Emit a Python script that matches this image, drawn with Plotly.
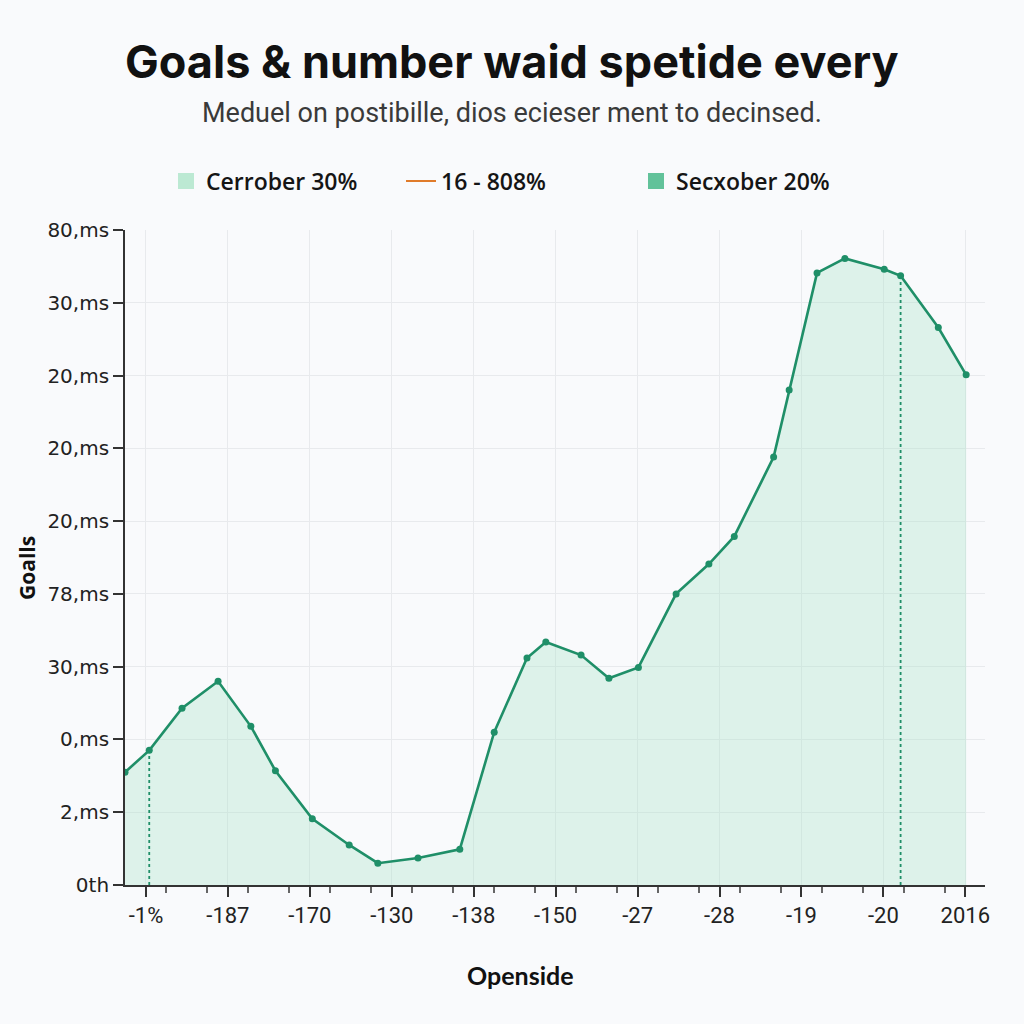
import plotly.graph_objects as go

# --- data ---
x_vals = [-0.256, 0.04, 0.44, 0.88, 1.28, 1.58, 2.03, 2.48, 2.83, 3.32, 3.83,
          4.25, 4.65, 4.88, 5.31, 5.65, 6.01, 6.47, 6.87, 7.18, 7.66, 7.85,
          8.19, 8.53, 9.01, 9.21, 9.67, 10.01]
goals = [1.55, 1.85, 2.43, 2.80, 2.18, 1.57, 0.91, 0.55, 0.30, 0.37, 0.49,
         2.10, 3.12, 3.34, 3.16, 2.84, 2.99, 4.00, 4.41, 4.79, 5.88, 6.80,
         8.41, 8.61, 8.46, 8.37, 7.66, 7.01]
marked_idx = [1, 25]

x_ticktext = ["-1%", "-187", "-170", "-130", "-138", "-150", "-27", "-28",
              "-19", "-20", "2016"]
y_ticktext = ["0th", "2,ms", "0,ms", "30,ms", "78,ms", "20,ms", "20,ms",
              "20,ms", "30,ms", "80,ms"]
legend_names = ["Cerrober 30%", "16 - 808%", "Secxober 20%"]

LINE = "#1f8f68"
FILL = "rgba(170,225,200,0.35)"
BG = "#f9fafc"

# plot area in pixels (1024 x 1024 page)
L, R, T, B = 125, 39, 230, 139
plot_w = 1024 - L - R
plot_h = 1024 - T - B


def px_x(px):
    return (px - L) / plot_w


def px_y(py):
    return 1 + (T - py) / plot_h


fig = go.Figure()

fig.add_trace(go.Scatter(
    x=x_vals, y=goals, mode="lines+markers", fill="tozeroy",
    fillcolor=FILL, line=dict(color=LINE, width=2.6),
    marker=dict(color=LINE, size=7), showlegend=False, hoverinfo="skip"
))

for i in marked_idx:
    fig.add_trace(go.Scatter(
        x=[x_vals[i], x_vals[i]], y=[0, goals[i]], mode="lines",
        line=dict(color=LINE, width=1.8, dash="dot"), showlegend=False,
        hoverinfo="skip"
    ))

# legend-only entries
fig.add_trace(go.Scatter(
    x=[None], y=[None], mode="markers", name=legend_names[0],
    marker=dict(symbol="square", size=26, color="#bce9d3")
))
fig.add_trace(go.Scatter(
    x=[None], y=[None], mode="lines", name=legend_names[1],
    line=dict(color="#e07b2a", width=2)
))
fig.add_trace(go.Scatter(
    x=[None], y=[None], mode="markers", name=legend_names[2],
    marker=dict(symbol="square", size=26, color="#62c29a")
))

minor_x = []
for k in range(10):
    minor_x += [k + 0.25, k + 0.75]

fig.update_layout(
    width=1024, height=1024,
    paper_bgcolor=BG, plot_bgcolor=BG,
    margin=dict(l=L, r=R, t=T, b=B),
    font=dict(family="Open Sans", color="#222"),
    legend=dict(
        orientation="h", x=px_x(166), xanchor="left", y=px_y(181),
        yanchor="middle", font=dict(family="Open Sans", size=23,
                                    color="#151515", weight=600),
        itemsizing="trace", traceorder="normal",
        entrywidth=190, entrywidthmode="pixels",
        bgcolor="rgba(0,0,0,0)"
    ),
    annotations=[
        dict(text="<b>Goals & number waid spetide every</b>", x=px_x(512),
             y=px_y(62), xref="paper", yref="paper", showarrow=False,
             xanchor="center", yanchor="middle",
             font=dict(family="Inter", size=45, color="#111")),
        dict(text="Meduel on postibille, dios ecieser ment to decinsed.",
             x=px_x(512), y=px_y(113), xref="paper", yref="paper",
             showarrow=False, xanchor="center", yanchor="middle",
             font=dict(family="Roboto", size=27, color="#3a3a3a")),
        dict(text="<b>Goalls</b>", x=px_x(27), y=px_y(568), xref="paper",
             yref="paper", showarrow=False, textangle=-90,
             xanchor="center", yanchor="middle",
             font=dict(family="Open Sans", size=21, color="#111")),
        dict(text="<b>Openside</b>", x=px_x(520), y=px_y(975), xref="paper",
             yref="paper", showarrow=False, xanchor="center",
             yanchor="middle",
             font=dict(family="Lato", size=25, color="#111")),
    ],
)

fig.update_xaxes(
    range=[-0.256, 10.24], tickmode="array", tickvals=list(range(11)),
    ticktext=x_ticktext, ticks="outside", ticklen=10, tickwidth=1.5,
    tickcolor="#333", showline=True, linecolor="#333", linewidth=1.8,
    showgrid=True, gridcolor="#e8eaed", gridwidth=1, zeroline=False,
    tickfont=dict(family="Roboto", size=22, color="#222"),
    minor=dict(tickvals=minor_x, ticks="outside", ticklen=6,
               tickcolor="#666", showgrid=False),
)
fig.update_yaxes(
    range=[0, 9], tickmode="array", tickvals=list(range(10)),
    ticktext=y_ticktext, ticks="outside", ticklen=10, tickwidth=1.5,
    tickcolor="#333", showline=True, linecolor="#333", linewidth=1.8,
    showgrid=True, gridcolor="#e8eaed", gridwidth=1, zeroline=False,
    tickfont=dict(family="DejaVu Sans", size=20, color="#222"),
)

fig.write_html(
    "out.html",
    config={"displayModeBar": False},
    post_script="document.body.style.margin='0';"
                "document.body.style.background='#f9fafc';",
)
